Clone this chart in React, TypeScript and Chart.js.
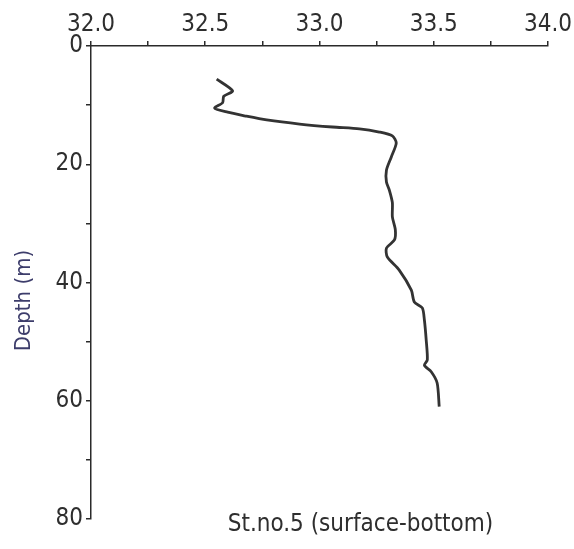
import React, { useEffect, useRef } from "react";
import { Chart, registerables } from "chart.js";

Chart.register(...registerables);

const salinity = [
  32.55, 32.62, 32.581, 32.576, 32.541, 32.598, 32.672, 32.769, 32.913, 33.057, 33.175, 33.262,
  33.319, 33.336, 33.314, 33.293, 33.293, 33.306, 33.319, 33.319, 33.332, 33.328, 33.293,
  33.297, 33.349, 33.402, 33.415, 33.45, 33.459, 33.467, 33.472, 33.459, 33.489, 33.515, 33.524,
];
const depth = [
  5.6, 7.6, 8.5, 9.6, 10.5, 11.2, 11.8, 12.5, 13.2, 13.7, 14.0, 14.55,
  15.2, 16.4, 18.8, 21.0, 23.0, 24.4, 26.5, 28.9, 31.1, 32.8, 34.2,
  35.7, 37.9, 41.3, 43.3, 44.3, 46.3, 49.7, 53.1, 54.0, 55.1, 57.0, 61.0,
];
const xRange = [32.0, 34.0];
const yRange = [0, 80];
const yAxisTitle = "Depth (m)";
const chartTitle = "St.no.5 (surface-bottom)";

const FONT = "'DejaVu Sans Condensed', 'DejaVu Sans', sans-serif";

export default function App() {
  const ref = useRef<HTMLCanvasElement | null>(null);

  useEffect(() => {
    document.body.style.margin = "0";
    const canvas = ref.current;
    if (!canvas) return;
    const points = salinity.map((s, i) => ({ x: s, y: depth[i] }));

    const textPlugin = {
      id: "texts",
      afterDraw(chart: any) {
        const { ctx, chartArea } = chart;
        ctx.save();
        ctx.font = `24px ${FONT}`;
        ctx.fillStyle = "#2e2e2e";
        ctx.textAlign = "center";
        ctx.textBaseline = "alphabetic";
        ctx.fillText(chartTitle, (chartArea.left + chartArea.right) / 2 + 41, chartArea.bottom + 12);
        ctx.translate(30, (chartArea.top + chartArea.bottom) / 2 + 18);
        ctx.rotate(-Math.PI / 2);
        ctx.font = `22px ${FONT}`;
        ctx.fillStyle = "#3d3d6b";
        ctx.fillText(yAxisTitle, 0, 0);
        ctx.restore();
      },
    };

    const chart = new Chart(canvas, {
      type: "scatter",
      data: {
        datasets: [
          {
            data: points,
            showLine: true,
            borderColor: "#333333",
            borderWidth: 2.8,
            pointRadius: 0,
            tension: 0.25,
            fill: false,
          },
        ],
      },
      options: {
        animation: false,
        responsive: false,
        maintainAspectRatio: false,
        layout: { padding: { top: 0, left: 0, right: 25, bottom: 30 } },
        plugins: { legend: { display: false }, tooltip: { enabled: false }, title: { display: false } },
        scales: {
          x: {
            type: "linear",
            position: "top",
            min: xRange[0],
            max: xRange[1],
            afterFit(scale: any) {
              scale.height = 46;
            },
            border: { display: true, color: "#2a2a2a", width: 1.5 },
            grid: { drawOnChartArea: false, drawTicks: true, tickLength: 5, color: "#2a2a2a", lineWidth: 1.5 },
            ticks: {
              stepSize: 0.25,
              autoSkip: false,
              maxRotation: 0,
              padding: 2,
              color: "#2e2e2e",
              font: { family: FONT, size: 24 },
              callback: (v: any) => {
                const n = Number(v);
                return Math.abs(n * 2 - Math.round(n * 2)) < 1e-6 ? n.toFixed(1) : "";
              },
            },
          },
          y: {
            type: "linear",
            position: "left",
            reverse: true,
            min: yRange[0],
            max: yRange[1],
            afterFit(scale: any) {
              scale.width = 91;
            },
            border: { display: true, color: "#2a2a2a", width: 1.5 },
            grid: { drawOnChartArea: false, drawTicks: true, tickLength: 5, color: "#2a2a2a", lineWidth: 1.5 },
            ticks: {
              stepSize: 10,
              autoSkip: false,
              padding: 3,
              color: "#2e2e2e",
              font: { family: FONT, size: 24 },
              callback: (v: any) => {
                const n = Number(v);
                return n % 20 === 0 ? String(n) : "";
              },
            },
          },
        },
      },
      plugins: [textPlugin],
    });
    return () => chart.destroy();
  }, []);

  return (
    <div style={{ width: 574, height: 549, background: "#ffffff" }}>
      <canvas ref={ref} width={574} height={549} style={{ display: "block" }} />
    </div>
  );
}
